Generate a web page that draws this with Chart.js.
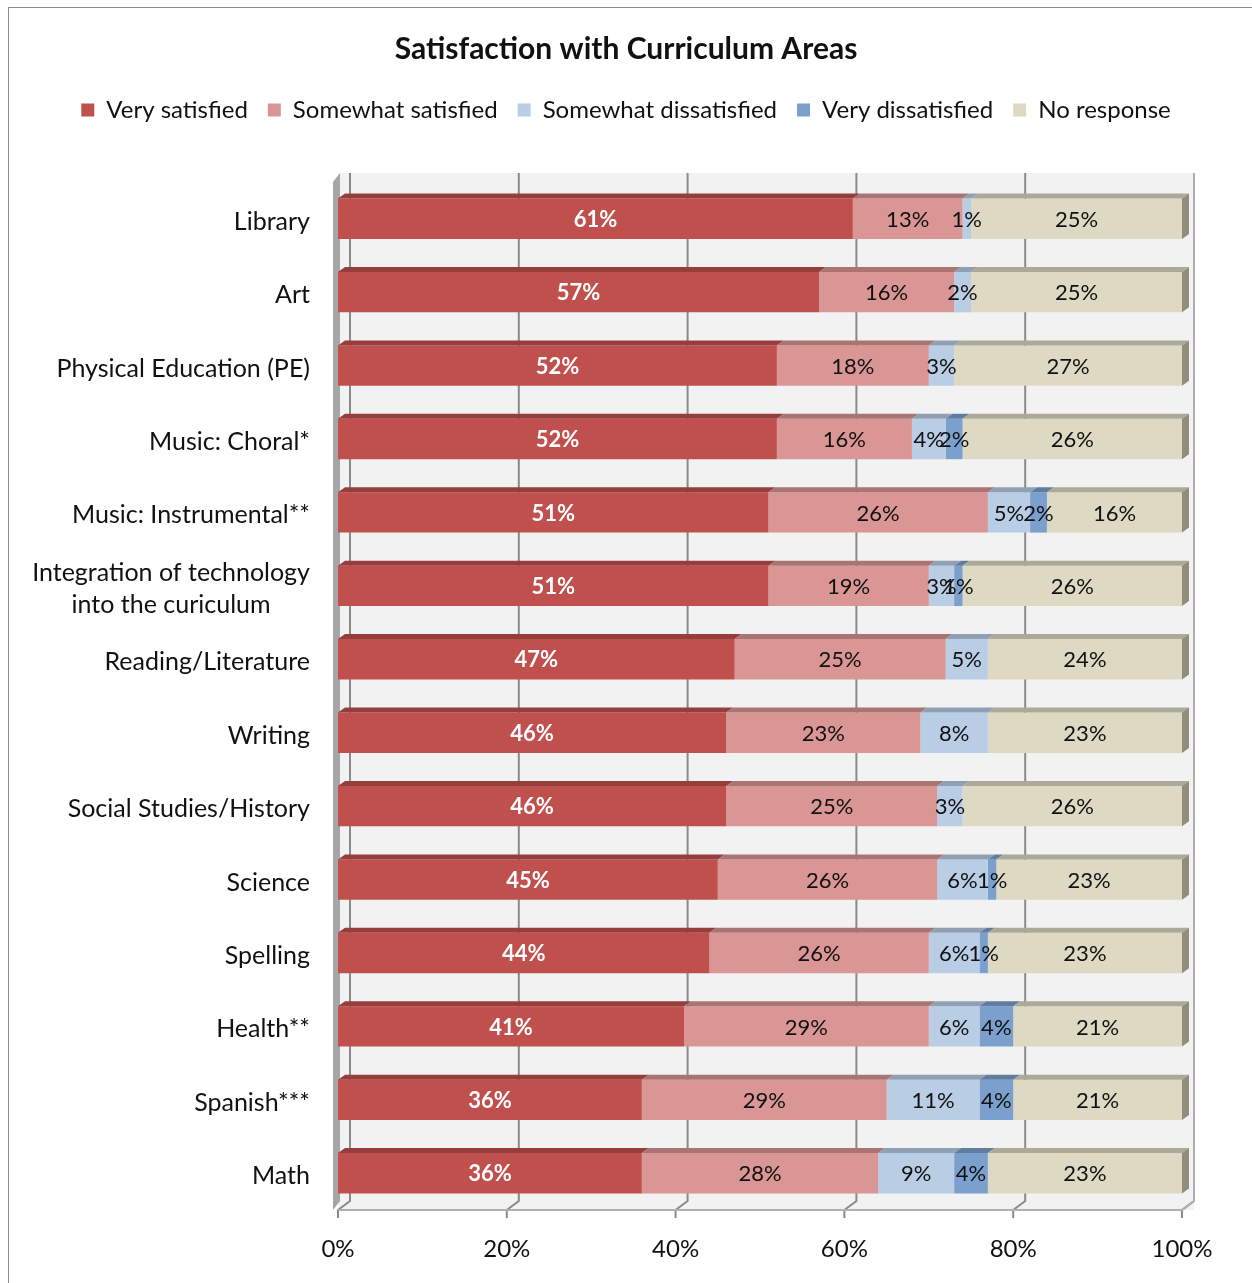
<!DOCTYPE html>
<html>
<head>
<meta charset="utf-8">
<script src="https://cdn.jsdelivr.net/npm/chart.js@4/dist/chart.umd.min.js"></script>
<style>
  html, body { margin: 0; padding: 0; background: #fff; }
  #wrap { position: relative; width: 1252px; height: 1283px; overflow: hidden; }
  #frame { position: absolute; left: 8px; top: 7px; width: 1300px; height: 1300px;
           border-left: 1px solid #8c8c8c; border-top: 1px solid #8c8c8c; }
  canvas { position: absolute; left: 0; top: 0; }
</style>
</head>
<body>
<div id="wrap">
  <div id="frame"></div>
  <canvas id="chart" width="1252" height="1283"></canvas>
</div>
<script>
const categories = [
  'Library', 'Art', 'Physical Education (PE)', 'Music: Choral*', 'Music: Instrumental**',
  ['Integration of technology', 'into the curiculum'], 'Reading/Literature', 'Writing',
  'Social Studies/History', 'Science', 'Spelling', 'Health**', 'Spanish***', 'Math'
];
const verySatisfied        = [61, 57, 52, 52, 51, 51, 47, 46, 46, 45, 44, 41, 36, 36];
const somewhatSatisfied    = [13, 16, 18, 16, 26, 19, 25, 23, 25, 26, 26, 29, 29, 28];
const somewhatDissatisfied = [1, 2, 3, 4, 5, 3, 5, 8, 3, 6, 6, 6, 11, 9];
const veryDissatisfied     = [0, 0, 0, 2, 2, 1, 0, 0, 0, 1, 1, 4, 4, 4];
const noResponse           = [25, 25, 27, 26, 16, 26, 24, 23, 26, 23, 23, 21, 21, 23];
const xTicks = [0, 20, 40, 60, 80, 100];

const FONT = 'Lato, "Open Sans", sans-serif';
const DX = 12, DY = 9;   // back wall offset (fake 3D)
const TX = 7, TY = 5;    // bar top face depth

function darker(hex, f) {
  const n = parseInt(hex.slice(1), 16);
  const r = Math.round(((n >> 16) & 255) * f), g = Math.round(((n >> 8) & 255) * f), b = Math.round((n & 255) * f);
  return `rgb(${r},${g},${b})`;
}

// back wall, floor, grid lines, y labels, bar tops and value labels
const decor = {
  id: 'decor',
  beforeDatasetsDraw(chart) {
    const { ctx, chartArea: a, scales: { x, y } } = chart;
    ctx.save();
    ctx.fillStyle = '#f2f2f2';
    ctx.fillRect(a.left, a.top - DY, a.right - a.left + DX, a.bottom - a.top + DY);
    // left wall
    ctx.fillStyle = '#a6a6a6';
    ctx.beginPath();
    ctx.moveTo(a.left - 5, a.top);
    ctx.lineTo(a.left + 2, a.top - DY);
    ctx.lineTo(a.left + 2, a.bottom - DY);
    ctx.lineTo(a.left - 5, a.bottom);
    ctx.closePath();
    ctx.fill();
    // grid lines on the back wall, slanting down across the floor
    ctx.strokeStyle = '#8a8a8a';
    ctx.lineWidth = 2;
    xTicks.forEach(v => {
      const px = x.getPixelForValue(v);
      ctx.beginPath();
      ctx.moveTo(px + DX, a.top - DY);
      ctx.lineTo(px + DX, a.bottom - DY);
      ctx.lineTo(px, a.bottom);
      ctx.lineTo(px, a.bottom + 8);
      ctx.stroke();
    });
    // floor edges
    ctx.strokeStyle = '#b0b0b0';
    ctx.lineWidth = 2;
    ctx.beginPath();
    ctx.moveTo(a.left, a.bottom);
    ctx.lineTo(a.right, a.bottom);
    ctx.lineTo(a.right + DX, a.bottom - DY);
    ctx.lineTo(a.right + DX, a.top - DY);
    ctx.stroke();
    // category labels
    ctx.fillStyle = '#111';
    ctx.font = `25px ${FONT}`;
    ctx.textBaseline = 'middle';
    categories.forEach((c, i) => {
      const py = y.getPixelForValue(i) + 3;
      const lines = Array.isArray(c) ? c : [c];
      const w = Math.max(...lines.map(l => ctx.measureText(l).width));
      const right = a.left - 28;
      ctx.textAlign = 'center';
      lines.forEach((l, k) => {
        ctx.fillText(l, right - w / 2, py + (k - (lines.length - 1) / 2) * 32);
      });
    });
    ctx.restore();
  },
  afterDatasetsDraw(chart) {
    const { ctx, chartArea: a } = chart;
    ctx.save();
    const last = chart.data.datasets.length - 1;
    chart.data.datasets.forEach((ds, di) => {
      const meta = chart.getDatasetMeta(di);
      meta.data.forEach((bar, i) => {
        if (!ds.data[i]) return;
        const x0 = bar.base, x1 = Math.min(bar.x, a.right);
        const top = bar.y - bar.height / 2, bot = bar.y + bar.height / 2;
        ctx.fillStyle = darker(ds.backgroundColor, 0.78);
        ctx.beginPath();
        ctx.moveTo(x0, top);
        ctx.lineTo(x0 + TX, top - TY);
        ctx.lineTo(x1 + TX, top - TY);
        ctx.lineTo(x1, top);
        ctx.closePath();
        ctx.fill();
        if (di === last) {
          ctx.fillStyle = darker(ds.backgroundColor, 0.65);
          ctx.beginPath();
          ctx.moveTo(x1, top);
          ctx.lineTo(x1 + TX, top - TY);
          ctx.lineTo(x1 + TX, bot - TY);
          ctx.lineTo(x1, bot);
          ctx.closePath();
          ctx.fill();
        }
      });
    });
    ctx.textAlign = 'center';
    ctx.textBaseline = 'middle';
    chart.data.datasets.forEach((ds, di) => {
      const meta = chart.getDatasetMeta(di);
      meta.data.forEach((bar, i) => {
        const v = ds.data[i];
        if (!v) return;
        const cx = (bar.base + Math.min(bar.x, a.right)) / 2;
        ctx.fillStyle = di === 0 ? '#fff' : '#111';
        ctx.font = (di === 0 ? 'bold ' : '') + `22px ${FONT}`;
        ctx.fillText(v + '%', cx, bar.y + 1);
      });
    });
    ctx.restore();
  }
};

const mk = (label, data, color) => ({
  label, data, backgroundColor: color, borderWidth: 0,
  categoryPercentage: 0.55, barPercentage: 1.0
});

new Chart(document.getElementById('chart'), {
  type: 'bar',
  data: {
    labels: categories,
    datasets: [
      mk('Very satisfied', verySatisfied, '#c0504d'),
      mk('Somewhat satisfied', somewhatSatisfied, '#d99694'),
      mk('Somewhat dissatisfied', somewhatDissatisfied, '#b9cde5'),
      mk('Very dissatisfied', veryDissatisfied, '#7ba0cd'),
      mk('No response', noResponse, '#ddd9c3'),
    ],
  },
  options: {
    indexAxis: 'y',
    responsive: false,
    animation: false,
    layout: { padding: 0 },
    scales: {
      x: {
        stacked: true, min: 0, max: 100,
        afterBuildTicks: s => { s.ticks = xTicks.map(v => ({ value: v })); },
        grid: { display: false, drawTicks: false },
        border: { display: false },
        ticks: { padding: 25, color: '#111', font: { family: FONT, size: 24 }, callback: v => v + '%' },
        afterFit: s => { s.height = 73; },
      },
      xTop: {
        position: 'top', axis: 'x',
        grid: { display: false, drawTicks: false }, border: { display: false },
        ticks: { display: false },
        afterFit: s => { s.height = 50; },
      },
      y: {
        stacked: true,
        grid: { display: false, drawTicks: false },
        border: { display: false },
        ticks: { display: false },
        afterFit: s => { s.width = 338; },
      },
      yRight: {
        type: 'linear', position: 'right', axis: 'y',
        grid: { display: false, drawTicks: false }, border: { display: false },
        ticks: { display: false },
        afterFit: s => { s.width = 70; },
      },
    },
    plugins: {
      title: {
        display: true,
        text: 'Satisfaction with Curriculum Areas',
        color: '#111',
        font: { family: FONT, size: 30, weight: 'bold' },
        padding: { top: 31, bottom: 11 },
      },
      legend: {
        position: 'top',
        labels: {
          color: '#111', boxWidth: 13, boxHeight: 13, padding: 20,
          font: { family: FONT, size: 24 },
        },
      },
      tooltip: { enabled: false },
    },
  },
  plugins: [decor],
});
</script>
</body>
</html>
